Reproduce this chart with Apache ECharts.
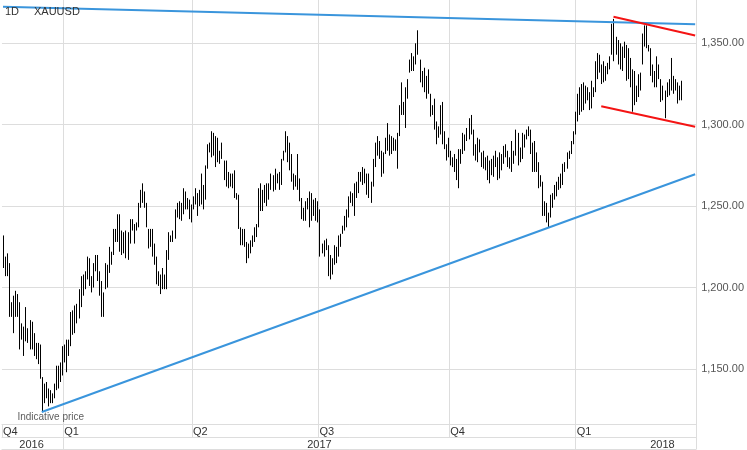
<!DOCTYPE html>
<html><head><meta charset="utf-8">
<script src="https://cdn.jsdelivr.net/npm/echarts@6/dist/echarts.min.js"></script>
<style>html,body{margin:0;padding:0;background:#fff}#c{width:747px;height:450px}</style>
</head><body><div id="c"></div>
<script>
// Daily high/low of XAUUSD (one entry per trading day)
const highs = [
1232,1219,1221,1215,1191,1195,1198,1196,1191,1178,
1176,1188,1175,1180,1179,1172,1166,1166,1165,1145,
1141,1142,1138,1137,1135,1141,1152,1152,1154,1164,
1165,1168,1168,1185,1186,1189,1190,1199,1207,1208,
1210,1219,1218,1207,1215,1220,1220,1210,1204,1197,
1215,1214,1225,1222,1236,1236,1245,1245,1235,1234,
1235,1234,1242,1242,1239,1240,1252,1260,1264,1259,
1252,1236,1236,1236,1227,1219,1210,1208,1212,1208,
1223,1234,1232,1235,1248,
1252,1253,1252,1261,1259,1255,1254,1251,1256,1261,
1258,1260,1270,1263,1275,1288,1289,1296,1295,1293,
1292,1284,1289,1278,1278,1271,1270,1270,1272,1258,
1257,1237,1236,1236,1228,1227,1229,1232,1237,1239,
1261,1264,1260,1263,1264,1264,1270,1269,1273,1270,
1271,1279,1284,1296,1293,1289,1282,1270,1269,1282,
1267,1255,1249,1253,1255,1259,1258,1254,1255,1253,
1248,1227,1229,1230,1226,1220,1218,1226,1225,1232,
1233,1238,1244,1248,1256,
1259,1258,1264,1265,1271,1271,1274,1273,1270,1270,
1265,1279,1289,1293,1290,1284,1283,1292,1301,1294,
1293,1292,1291,1295,1312,1326,1314,1323,1328,1340,
1344,1342,1350,1358,1340,1333,1335,1330,1334,1319,
1312,1316,1302,1299,1312,1314,1296,1288,1292,1284,
1280,1282,1279,1285,1285,1295,1294,1298,1304,1306,
1297,1288,1292,1291,1283,1284,1280,1281,1278,1279,
1281,1284,1280,1283,1282,1287,1288,1284,1280,1290,
1284,1297,1295,1286,1295,
1294,1297,1299,1297,1289,1290,1283,1277,1269,1265,
1253,1252,1246,1257,1258,1263,1265,1268,1270,1276,
1277,1283,1284,1290,1296,1308,
1319,1323,1325,1326,1324,1323,1320,1327,1323,1339,
1344,1343,1337,1339,1336,1338,1342,1362,1365,1354,
1352,1350,1348,1351,1349,1347,1341,1334,1333,1324,
1331,1332,1356,1361,1361,1349,1347,1337,1333,1342,
1337,1328,1324,1321,1326,1328,1341,1330,1328,1326,
1324,1327
];
const lows = [
1212,1207,1207,1182,1182,1172,1182,1182,1162,1168,
1158,1167,1166,1162,1162,1158,1156,1153,1144,1124,
1129,1132,1127,1129,1129,1132,1137,1138,1142,1146,
1154,1148,1158,1164,1171,1172,1178,1181,1188,1195,
1199,1205,1201,1197,1200,1210,1204,1195,1182,1182,
1199,1200,1209,1214,1220,1228,1228,1222,1220,1221,
1218,1217,1227,1235,1227,1235,1237,1249,1252,1249,
1237,1224,1225,1219,1214,1202,1201,1196,1199,1199,
1199,1217,1228,1228,1230,
1243,1242,1241,1245,1248,1248,1242,1240,1248,1251,
1244,1250,1251,1248,1254,1273,1283,1280,1281,1274,
1277,1276,1279,1266,1262,1261,1262,1261,1255,1254,
1236,1226,1226,1225,1215,1218,1221,1225,1228,1231,
1237,1247,1247,1252,1250,1254,1260,1259,1260,1264,
1260,1263,1278,1283,1277,1272,1265,1260,1262,1260,
1253,1242,1241,1241,1248,1237,1241,1244,1241,1240,
1219,1221,1219,1223,1207,1205,1208,1214,1215,1219,
1225,1233,1235,1237,1243,
1252,1250,1244,1255,1258,1265,1263,1264,1257,1255,
1252,1262,1274,1281,1279,1268,1270,1282,1284,1281,
1282,1284,1284,1273,1293,1306,1306,1298,1316,1332,
1333,1333,1337,1343,1326,1323,1320,1316,1319,1305,
1306,1297,1288,1292,1294,1288,1285,1278,1280,1275,
1274,1271,1266,1261,1276,1282,1284,1290,1291,1294,
1281,1278,1277,1283,1274,1273,1272,1266,1264,1269,
1268,1274,1266,1267,1272,1276,1280,1274,1273,1271,
1276,1281,1275,1277,1279,
1286,1291,1293,1282,1271,1271,1271,1261,1262,1244,
1244,1240,1237,1243,1249,1254,1256,1260,1261,1263,
1271,1273,1279,1282,1288,1294,
1302,1306,1308,1309,1313,1315,1309,1310,1317,1320,
1328,1332,1325,1326,1327,1331,1334,1343,1339,1343,
1337,1334,1333,1341,1327,1328,1323,1308,1312,1314,
1317,1321,1337,1348,1347,1345,1330,1326,1323,1323,
1328,1314,1315,1304,1317,1318,1321,1319,1321,1313,
1315,1315
];
const slotCount = 340;                      // trading-day slots on the axis
const quarterStarts = [0, 30, 93, 155, 219, 281];
const quarterLabels = ['Q4', 'Q1', 'Q2', 'Q3', 'Q4', 'Q1'];
const yearStarts = [30, 281];
const yearLabelSlots = [14, 155, 323];
const yearLabels = ['2016', '2017', '2018'];
// trend lines: [startSlot, startValue, endSlot, endValue]
const upperBlue = [[0, 1372.5], [339, 1361.7]];
const lowerBlue = [[19, 1123.6], [339, 1269.6]];
const upperRed = [[299, 1366.3], [339, 1354.8]];
const lowerRed = [[293, 1311.4], [339, 1298.8]];
const lowIndex = 19;

const FONT = '"Liberation Sans", Arial, sans-serif';
const slots = Array.from({length: slotCount}, (_, i) => String(i));
const bars = highs.map((h, i) => [i, lows[i], h]);

const chart = echarts.init(document.getElementById('c'), null, {renderer: 'canvas'});
const trend = (data, color) => ({
  type: 'line', data: data, symbol: 'none', silent: true, z: 5,
  lineStyle: {color: color, width: 2}, animation: false
});
chart.setOption({
  animation: false,
  backgroundColor: '#fff',
  title: [
    {text: '1D', left: 5, top: 6, padding: 0, textStyle: {fontSize: 11, fontWeight: 'normal', color: '#333', fontFamily: FONT}},
    {text: 'XAUUSD', left: 34, top: 6, padding: 0, textStyle: {fontSize: 11, fontWeight: 'normal', color: '#333', fontFamily: FONT}}
  ],
  grid: {left: 0, right: 47, top: 0, bottom: 26, containLabel: false},
  xAxis: [
    {
      type: 'category', data: slots, boundaryGap: true, position: 'bottom',
      axisLine: {show: true, lineStyle: {color: '#ddd'}},
      axisTick: {show: true, length: 13, interval: (i) => quarterStarts.includes(i), lineStyle: {color: '#ddd'}},
      axisLabel: {show: true, interval: (i) => quarterStarts.includes(i),
        formatter: (v, i) => quarterLabels[quarterStarts.indexOf(i)] || '',
        align: 'left', margin: 2, fontSize: 11, color: '#333', fontFamily: FONT},
      splitLine: {show: true, interval: (i) => quarterStarts.includes(i) && i > 0, lineStyle: {color: '#ddd'}}
    },
    {
      type: 'category', data: slots, boundaryGap: true, position: 'bottom', offset: 13,
      axisLine: {show: true, lineStyle: {color: '#ddd'}},
      axisTick: {show: true, length: 12, interval: (i) => yearStarts.includes(i), lineStyle: {color: '#ddd'}},
      axisLabel: {show: true, interval: (i) => yearLabelSlots.includes(i),
        formatter: (v, i) => yearLabels[yearLabelSlots.indexOf(i)] || '',
        align: 'center', margin: 2, fontSize: 11, color: '#333', fontFamily: FONT},
      splitLine: {show: false}
    },
    {
      type: 'category', data: slots, boundaryGap: true, position: 'bottom', offset: 25,
      axisLine: {show: true, lineStyle: {color: '#ddd'}},
      axisTick: {show: false}, axisLabel: {show: false}, splitLine: {show: false}
    }
  ],
  yAxis: {
    type: 'value', position: 'right', min: 1116.2, max: 1376.6,
    axisLine: {show: true, lineStyle: {color: '#ddd'}},
    axisTick: {show: false},
    axisLabel: {showMinLabel: false, showMaxLabel: false, margin: 5, fontSize: 11, color: '#555', fontFamily: FONT,
      formatter: (v) => v.toLocaleString('en-US', {minimumFractionDigits: 2, maximumFractionDigits: 2})},
    splitLine: {show: true, showMinLine: false, showMaxLine: false, lineStyle: {color: '#ddd'}}
  },
  series: [
    {
      type: 'custom', data: bars, encode: {x: 0, y: [1, 2]}, z: 3,
      renderItem: (params, api) => {
        const i = api.value(0);
        const lo = api.coord([i, api.value(1)]);
        const hi = api.coord([i, api.value(2)]);
        const x = Math.round(lo[0]) + 0.5;
        return {type: 'line', shape: {x1: x, y1: lo[1], x2: x, y2: hi[1]}, style: {stroke: '#000', lineWidth: 1}};
      }
    },
    trend(upperBlue, '#3a95dc'),
    trend(lowerBlue, '#3a95dc'),
    trend(upperRed, '#f41414'),
    trend(lowerRed, '#f41414'),
    {
      type: 'scatter', data: [[lowIndex, lows[lowIndex]]], symbolSize: 0, silent: true, z: 6,
      label: {show: true, position: 'bottom', distance: 1, offset: [9, 0], formatter: 'Indicative price',
        fontSize: 10, color: '#333', fontFamily: FONT}
    }
  ]
});
</script>
</body></html>
